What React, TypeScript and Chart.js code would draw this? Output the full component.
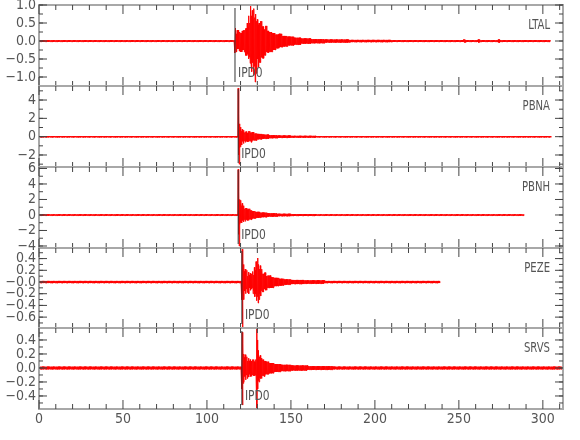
import React, { useEffect, useRef } from "react";
import { Chart, registerables } from "chart.js";

Chart.register(...registerables);

// ---------------- data ----------------
const stations = ["LTAL", "PBNA", "PBNH", "PEZE", "SRVS"];
const pickLabel = "IPD0";
const pickTimes = [116.7, 118.6, 118.6, 120.8, 120.8];

const xMin = 0;
const xMax = 312;
const xTicks = [0, 50, 100, 150, 200, 250, 300];
const xTickLabels = ["0", "50", "100", "150", "200", "250", "300"];

const yMins = [-1.25, -3.31, -4.26, -0.786, -0.586];
const yMaxs = [1.0, 5.53, 6.19, 0.581, 0.571];
const yMinorSteps = [0.25, 1, 1, 0.1, 0.1];

const ltalTicks = [-1.0, -0.5, 0, 0.5, 1.0];
const ltalTickLabels = ["\u22121.0", "\u22120.5", "0.0", "0.5", "1.0"];
const pbnaTicks = [-2, 0, 2, 4];
const pbnaTickLabels = ["\u22122", "0", "2", "4"];
const pbnhTicks = [-4, -2, 0, 2, 4, 6];
const pbnhTickLabels = ["\u22124", "\u22122", "0", "2", "4", "6"];
const pezeTicks = [-0.6, -0.4, -0.2, 0, 0.2, 0.4];
const pezeTickLabels = ["\u22120.6", "\u22120.4", "\u22120.2", "\u22120.0", "0.2", "0.4"];
const srvsTicks = [-0.4, -0.2, 0, 0.2, 0.4];
const srvsTickLabels = ["\u22120.4", "\u22120.2", "0.0", "0.2", "0.4"];

// envelope segments: [start s, end s, positive peak, negative peak]
type Seg = [number, number, number, number];
const ltalEnvelope: Seg[] = [
  [0, 116.7, 0.02, 0.02],
  [116.7, 117.3, 0.36, 0.33],
  [117.3, 118, 0.2, 0.3],
  [118, 119, 0.3, 0.22],
  [119, 120, 0.25, 0.28],
  [120, 121, 0.22, 0.3],
  [121, 122, 0.28, 0.25],
  [122, 123, 0.3, 0.3],
  [123, 124, 0.35, 0.4],
  [124, 124.5, 0.5, 0.35],
  [124.5, 125, 0.4, 0.5],
  [125, 125.5, 0.7, 0.45],
  [125.5, 126, 0.5, 0.62],
  [126, 126.5, 0.98, 0.6],
  [126.5, 127, 0.7, 0.85],
  [127, 127.5, 0.85, 0.6],
  [127.5, 128, 0.6, 0.95],
  [128, 128.5, 0.9, 0.7],
  [128.5, 129, 0.65, 1.14],
  [129, 129.5, 0.75, 0.8],
  [129.5, 130, 0.55, 0.9],
  [130, 130.5, 0.6, 0.5],
  [130.5, 131, 0.45, 0.72],
  [131, 132, 0.5, 0.6],
  [132, 133, 0.55, 0.45],
  [133, 134, 0.4, 0.48],
  [134, 135, 0.32, 0.4],
  [135, 136, 0.42, 0.3],
  [136, 137, 0.28, 0.32],
  [137, 139, 0.25, 0.3],
  [139, 141, 0.22, 0.25],
  [141, 143, 0.18, 0.2],
  [143, 145, 0.2, 0.17],
  [145, 148, 0.14, 0.15],
  [148, 152, 0.12, 0.12],
  [152, 156, 0.09, 0.1],
  [156, 162, 0.07, 0.07],
  [162, 170, 0.05, 0.06],
  [170, 185, 0.04, 0.04],
  [185, 210, 0.03, 0.03],
  [210, 253, 0.022, 0.022],
  [253, 254, 0.045, 0.04],
  [254, 261.5, 0.022, 0.022],
  [261.5, 262.5, 0.04, 0.04],
  [262.5, 273.5, 0.022, 0.022],
  [273.5, 274.5, 0.04, 0.04],
  [274.5, 304.7, 0.022, 0.022],
];
const pbnaEnvelope: Seg[] = [
  [0, 118.6, 0.065, 0.065],
  [118.6, 119, 5.3, 2.0],
  [119, 119.4, 2.5, 3.0],
  [119.4, 119.8, 1.4, 1.2],
  [119.8, 120.2, 0.9, 1.1],
  [120.2, 120.6, 1.05, 0.7],
  [120.6, 121, 0.6, 0.9],
  [121, 121.5, 0.8, 0.5],
  [121.5, 122, 0.5, 0.75],
  [122, 122.5, 0.7, 0.45],
  [122.5, 123, 0.45, 0.6],
  [123, 124, 0.55, 0.5],
  [124, 125, 0.4, 0.55],
  [125, 126, 0.6, 0.45],
  [126, 127, 0.45, 0.6],
  [127, 128, 0.5, 0.4],
  [128, 130, 0.35, 0.4],
  [130, 133, 0.3, 0.28],
  [133, 137, 0.22, 0.22],
  [137, 142, 0.16, 0.16],
  [142, 150, 0.12, 0.12],
  [150, 165, 0.09, 0.09],
  [165, 305, 0.065, 0.065],
];
const pbnhEnvelope: Seg[] = [
  [0, 118.6, 0.08, 0.08],
  [118.6, 119, 5.9, 2.5],
  [119, 119.4, 3.0, 4.0],
  [119.4, 119.8, 2.0, 1.2],
  [119.8, 120.2, 1.4, 1.0],
  [120.2, 120.6, 1.9, 0.8],
  [120.6, 121, 1.2, 1.0],
  [121, 121.5, 1.5, 0.7],
  [121.5, 122, 1.0, 0.9],
  [122, 122.5, 1.2, 0.6],
  [122.5, 123, 0.8, 0.8],
  [123, 124, 0.9, 0.6],
  [124, 125, 0.7, 0.7],
  [125, 126, 0.8, 0.55],
  [126, 127, 0.6, 0.6],
  [127, 129, 0.5, 0.45],
  [129, 132, 0.4, 0.35],
  [132, 136, 0.3, 0.28],
  [136, 142, 0.22, 0.2],
  [142, 150, 0.15, 0.15],
  [150, 165, 0.11, 0.11],
  [165, 289, 0.08, 0.08],
];
const pezeEnvelope: Seg[] = [
  [0, 120.8, 0.018, 0.018],
  [120.8, 121.2, 0.56, 0.3],
  [121.2, 121.6, 0.4, 0.77],
  [121.6, 122, 0.3, 0.25],
  [122, 122.5, 0.18, 0.3],
  [122.5, 123, 0.22, 0.15],
  [123, 123.5, 0.12, 0.2],
  [123.5, 124, 0.2, 0.12],
  [124, 124.5, 0.1, 0.18],
  [124.5, 125, 0.17, 0.1],
  [125, 125.5, 0.12, 0.2],
  [125.5, 126, 0.15, 0.1],
  [126, 126.5, 0.1, 0.14],
  [126.5, 127, 0.14, 0.12],
  [127, 127.5, 0.18, 0.1],
  [127.5, 128, 0.12, 0.2],
  [128, 128.5, 0.25, 0.15],
  [128.5, 129, 0.2, 0.25],
  [129, 129.5, 0.35, 0.2],
  [129.5, 130, 0.25, 0.32],
  [130, 130.5, 0.41, 0.25],
  [130.5, 131, 0.3, 0.36],
  [131, 131.5, 0.22, 0.3],
  [131.5, 132, 0.28, 0.2],
  [132, 132.5, 0.18, 0.24],
  [132.5, 133, 0.22, 0.15],
  [133, 134, 0.14, 0.17],
  [134, 135, 0.16, 0.12],
  [135, 136, 0.1, 0.14],
  [136, 138, 0.11, 0.1],
  [138, 140, 0.08, 0.1],
  [140, 143, 0.07, 0.07],
  [143, 146, 0.055, 0.06],
  [146, 150, 0.045, 0.045],
  [150, 158, 0.035, 0.035],
  [158, 170, 0.028, 0.028],
  [170, 239, 0.018, 0.018],
];
const srvsEnvelope: Seg[] = [
  [0, 120.8, 0.018, 0.018],
  [120.8, 121.2, 0.51, 0.3],
  [121.2, 121.6, 0.35, 0.53],
  [121.6, 122, 0.2, 0.22],
  [122, 122.5, 0.15, 0.2],
  [122.5, 123, 0.19, 0.12],
  [123, 123.5, 0.12, 0.17],
  [123.5, 124, 0.16, 0.1],
  [124, 124.5, 0.1, 0.15],
  [124.5, 125, 0.14, 0.1],
  [125, 125.5, 0.1, 0.13],
  [125.5, 126, 0.12, 0.09],
  [126, 127, 0.1, 0.12],
  [127, 128, 0.12, 0.1],
  [128, 129, 0.09, 0.11],
  [129, 129.4, 0.12, 0.1],
  [129.4, 129.8, 0.6, 0.3],
  [129.8, 130.2, 0.4, 0.62],
  [130.2, 130.6, 0.25, 0.3],
  [130.6, 131, 0.2, 0.18],
  [131, 131.5, 0.16, 0.2],
  [131.5, 132, 0.18, 0.14],
  [132, 133, 0.14, 0.15],
  [133, 134, 0.12, 0.11],
  [134, 135, 0.1, 0.12],
  [135, 137, 0.09, 0.09],
  [137, 140, 0.07, 0.075],
  [140, 144, 0.055, 0.055],
  [144, 150, 0.045, 0.045],
  [150, 160, 0.035, 0.035],
  [160, 175, 0.025, 0.025],
  [175, 312, 0.018, 0.018],
];

const envelopes = [ltalEnvelope, pbnaEnvelope, pbnhEnvelope, pezeEnvelope, srvsEnvelope];
const yTicks = [ltalTicks, pbnaTicks, pbnhTicks, pezeTicks, srvsTicks];
const yTickLabels = [ltalTickLabels, pbnaTickLabels, pbnhTickLabels, pezeTickLabels, srvsTickLabels];

// ---------------- layout ----------------
const PANEL_TOPS = [5, 86, 167, 248, 328];
const PANEL_BOTTOMS = [86, 167, 248, 328, 409];
const PAD = 14;
const X_AXIS_H = 22;
const LEFT = 39;
const RIGHT_PAD = 17;
const SAMPLE = 0.25;
const FAMILY = '"Liberation Sans Narrow", "DejaVu Sans Condensed", "Liberation Sans", sans-serif';
const TEXT_COLOR = "#555";

function buildTrace(segs: Seg[]) {
  const pts: { x: number; y: number }[] = [];
  let k = 0;
  for (const [t0, t1, up, dn] of segs) {
    const n = Math.max(2, Math.round((t1 - t0) / SAMPLE));
    for (let j = 0; j < n; j++) {
      const t = t0 + ((t1 - t0) * j) / n;
      pts.push({ x: t, y: k % 2 === 0 ? up : -dn });
      k++;
    }
  }
  return pts;
}

function makeDecor(index: number) {
  return {
    id: "decor" + index,
    afterDatasetsDraw(chart: any) {
      const { ctx, chartArea: a, scales } = chart;
      const x = scales.x;
      const y = scales.y;
      ctx.save();
      // pick line
      const px = x.getPixelForValue(pickTimes[index]);
      ctx.strokeStyle = "#333";
      ctx.lineWidth = 1;
      ctx.beginPath();
      ctx.moveTo(px, a.top + 3);
      ctx.lineTo(px, a.bottom - 4);
      ctx.stroke();
      // frame
      ctx.strokeStyle = "#a8a8a8";
      ctx.lineWidth = 2;
      ctx.strokeRect(a.left, a.top, a.right - a.left, a.bottom - a.top);
      // x ticks (top and bottom, inward)
      ctx.strokeStyle = "#444";
      ctx.lineWidth = 1;
      ctx.beginPath();
      for (let v = xMin; v <= xMax; v += 10) {
        const p = x.getPixelForValue(v);
        const len = v % 50 === 0 ? 9 : 5;
        ctx.moveTo(p, a.top);
        ctx.lineTo(p, a.top + len);
        ctx.moveTo(p, a.bottom);
        ctx.lineTo(p, a.bottom - len);
      }
      // y major ticks
      for (const t of y.ticks) {
        const p = y.getPixelForValue(t.value);
        ctx.moveTo(a.left, p);
        ctx.lineTo(a.left + 8, p);
        ctx.moveTo(a.right, p);
        ctx.lineTo(a.right - 8, p);
      }
      // y minor ticks
      const st = yMinorSteps[index];
      const start = Math.ceil(yMins[index] / st - 1e-6);
      const end = Math.floor(yMaxs[index] / st + 1e-6);
      for (let j = start; j <= end; j++) {
        const p = y.getPixelForValue(j * st);
        ctx.moveTo(a.left, p);
        ctx.lineTo(a.left + 4, p);
        ctx.moveTo(a.right, p);
        ctx.lineTo(a.right - 4, p);
      }
      ctx.stroke();
      // texts
      ctx.fillStyle = TEXT_COLOR;
      ctx.font = "14px " + FAMILY;
      ctx.textAlign = "right";
      ctx.textBaseline = "middle";
      const name = stations[index];
      ctx.fillText(name, a.right - 13, a.top + 20, ctx.measureText(name).width * 0.8);
      ctx.textAlign = "left";
      ctx.textBaseline = "alphabetic";
      ctx.fillText(pickLabel, px + 3, a.bottom - 9, ctx.measureText(pickLabel).width * 0.85);
      ctx.restore();
    },
  };
}

function Panel({ index }: { index: number }) {
  const ref = useRef<HTMLCanvasElement>(null);
  const isLast = index === 4;
  const top = PANEL_TOPS[index];
  const bottom = PANEL_BOTTOMS[index];
  const canvasTop = top - PAD;
  const canvasH = isLast ? 440 - canvasTop : bottom - top + 2 * PAD;
  const padBottom = isLast ? canvasH - PAD - (bottom - top) - X_AXIS_H : PAD;

  useEffect(() => {
    if (!ref.current) return;
    const font = { family: FAMILY, size: 14 };
    const chart = new Chart(ref.current, {
      type: "line",
      data: {
        datasets: [
          {
            data: buildTrace(envelopes[index]),
            borderColor: "#ff0000",
            borderWidth: 1,
            pointRadius: 0,
            fill: false,
            tension: 0,
          },
        ],
      },
      options: {
        animation: false,
        responsive: false,
        events: [],
        layout: { padding: { left: 0, right: RIGHT_PAD, top: PAD, bottom: padBottom } },
        plugins: { legend: { display: false }, tooltip: { enabled: false } },
        scales: {
          x: {
            type: "linear",
            min: xMin,
            max: xMax,
            display: isLast,
            grid: { display: false, drawTicks: false },
            border: { display: false },
            afterBuildTicks: (s: any) => {
              s.ticks = xTicks.map((v) => ({ value: v }));
            },
            afterFit: (s: any) => {
              s.height = isLast ? X_AXIS_H : 0;
            },
            ticks: {
              padding: 2,
              color: TEXT_COLOR,
              font,
              maxRotation: 0,
              autoSkip: false,
              callback: (_v: any, i: number) => xTickLabels[i],
            },
          },
          y: {
            type: "linear",
            min: yMins[index],
            max: yMaxs[index],
            grid: { display: false, drawTicks: false },
            border: { display: false },
            afterBuildTicks: (s: any) => {
              s.ticks = yTicks[index].map((v) => ({ value: v }));
            },
            afterFit: (s: any) => {
              s.width = LEFT;
            },
            ticks: {
              padding: 3,
              color: TEXT_COLOR,
              font,
              autoSkip: false,
              callback: (_v: any, i: number) => yTickLabels[index][i],
            },
          },
        },
      } as any,
      plugins: [makeDecor(index)],
    });
    return () => chart.destroy();
  }, [index]);

  return (
    <canvas
      ref={ref}
      width={580}
      height={canvasH}
      style={{ position: "absolute", left: 0, top: canvasTop, width: 580, height: canvasH, display: "block" }}
    />
  );
}

export default function App() {
  return (
    <div style={{ position: "absolute", left: 0, top: 0, width: 580, height: 440, background: "#fff", overflow: "hidden" }}>
      {stations.map((_, i) => (
        <Panel key={i} index={i} />
      ))}
    </div>
  );
}
